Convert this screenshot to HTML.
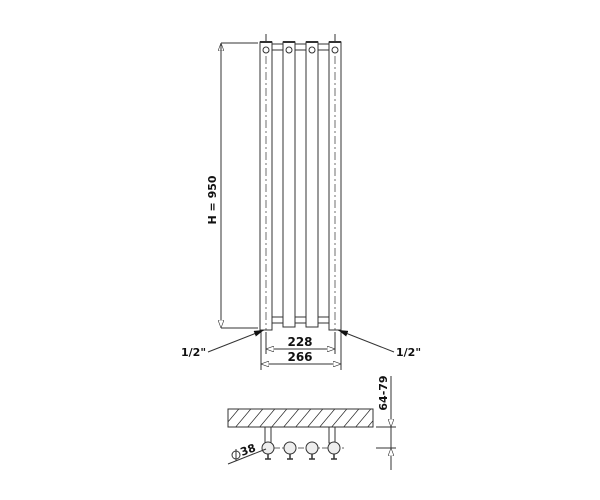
<!DOCTYPE html>
<html><head><style>body{margin:0;background:#fff}svg{display:block}text{font-family:"DejaVu Sans","Liberation Sans",sans-serif;font-weight:bold;fill:#111}</style></head><body>
<svg width="600" height="500" viewBox="0 0 600 500">
<defs>
<marker id="a" markerWidth="8" markerHeight="6" refX="8" refY="3" orient="auto"><path d="M0,0 L8,3 L0,6z" fill="#fff" stroke="#333" stroke-width="0.6"/></marker>
<marker id="b" markerWidth="10" markerHeight="6" refX="10" refY="3" orient="auto"><path d="M0,0 L10,3 L0,6z" fill="#111"/></marker>
<pattern id="h" width="12" height="18" patternUnits="userSpaceOnUse" patternTransform="skewX(-40)"><line x1="6" y1="0" x2="6" y2="18" stroke="#333" stroke-width="1"/></pattern>
</defs>
<g stroke="#333" stroke-width="1" fill="none">
<line x1="221" y1="43" x2="258" y2="43"/>
<line x1="221" y1="328" x2="258" y2="328"/>
<line x1="221" y1="328" x2="221" y2="43" marker-end="url(#a)"/>
<line x1="221" y1="43" x2="221" y2="328" marker-end="url(#a)"/>
<line x1="266" y1="34" x2="266" y2="42"/>
<line x1="335" y1="34" x2="335" y2="42"/>
<rect x="272" y="44" width="11" height="6" fill="#fff"/>
<rect x="295" y="44" width="11" height="6" fill="#fff"/>
<rect x="318" y="44" width="11" height="6" fill="#fff"/>
<rect x="270" y="317" width="15" height="6" rx="2" fill="#fff"/>
<rect x="293" y="317" width="15" height="6" rx="2" fill="#fff"/>
<rect x="316" y="317" width="15" height="6" rx="2" fill="#fff"/>
<rect x="260" y="42" width="12" height="288" fill="#fff"/>
<rect x="283" y="42" width="12" height="285" fill="#fff"/>
<rect x="306" y="42" width="12" height="285" fill="#fff"/>
<rect x="329" y="42" width="12" height="288" fill="#fff"/>
<line x1="260" y1="42" x2="272" y2="42" stroke-width="2"/>
<line x1="283" y1="42" x2="295" y2="42" stroke-width="2"/>
<line x1="306" y1="42" x2="318" y2="42" stroke-width="2"/>
<line x1="329" y1="42" x2="341" y2="42" stroke-width="2"/>
<circle cx="266" cy="50" r="3"/><circle cx="289" cy="50" r="3"/><circle cx="312" cy="50" r="3"/><circle cx="335" cy="50" r="3"/>
<line x1="266" y1="56" x2="266" y2="330" stroke-dasharray="8,3,2,3" stroke-width="0.7"/>
<line x1="335" y1="56" x2="335" y2="330" stroke-dasharray="8,3,2,3" stroke-width="0.7"/>
<line x1="261" y1="332" x2="261" y2="370"/>
<line x1="341" y1="332" x2="341" y2="370"/>
<line x1="266" y1="332" x2="266" y2="354"/>
<line x1="335" y1="332" x2="335" y2="354"/>
<line x1="300" y1="349" x2="266" y2="349" marker-end="url(#a)"/>
<line x1="300" y1="349" x2="335" y2="349" marker-end="url(#a)"/>
<line x1="300" y1="364" x2="261" y2="364" marker-end="url(#a)"/>
<line x1="300" y1="364" x2="341" y2="364" marker-end="url(#a)"/>
<line x1="208" y1="352" x2="264" y2="330" marker-end="url(#b)"/>
<line x1="394" y1="352" x2="338" y2="330" marker-end="url(#b)"/>
<rect x="228" y="409" width="145" height="18" fill="url(#h)" stroke="#333"/>
<rect x="265" y="427" width="6" height="16" fill="#fff"/>
<rect x="329" y="427" width="6" height="16" fill="#fff"/>
<line x1="262" y1="448" x2="345" y2="448" stroke-dasharray="6,2,2,2" stroke-width="0.7"/>
<g fill="#eee">
<circle cx="268" cy="448" r="6"/><circle cx="290" cy="448" r="6"/><circle cx="312" cy="448" r="6"/><circle cx="334" cy="448" r="6"/>
</g>
<g stroke-width="1.5">
<line x1="268" y1="454" x2="268" y2="459"/><line x1="290" y1="454" x2="290" y2="459"/><line x1="312" y1="454" x2="312" y2="459"/><line x1="334" y1="454" x2="334" y2="459"/>
<line x1="265" y1="459" x2="271" y2="459"/><line x1="287" y1="459" x2="293" y2="459"/><line x1="309" y1="459" x2="315" y2="459"/><line x1="331" y1="459" x2="337" y2="459"/>
</g>
<line x1="228" y1="464" x2="266" y2="449"/>
<circle cx="236" cy="455" r="4"/><line x1="236" y1="449" x2="236" y2="461"/>
<line x1="376" y1="427" x2="396" y2="427"/>
<line x1="376" y1="448" x2="396" y2="448"/>
<line x1="391" y1="376" x2="391" y2="470"/>
<line x1="391" y1="415" x2="391" y2="427" marker-end="url(#a)"/>
<line x1="391" y1="460" x2="391" y2="448" marker-end="url(#a)"/>
</g>
<text x="0" y="0" font-size="11" transform="translate(216 200) rotate(-90)" text-anchor="middle">H = 950</text>
<text x="300" y="346" font-size="12" text-anchor="middle">228</text>
<text x="300" y="361" font-size="12" text-anchor="middle">266</text>
<text x="181" y="356" font-size="11">1/2"</text>
<text x="396" y="356" font-size="11">1/2"</text>
<text font-size="11" transform="translate(387 393) rotate(-90)" text-anchor="middle">64-79</text>
<text font-size="11" transform="translate(242 456) rotate(-20)">38</text>
</svg>
</body></html>
